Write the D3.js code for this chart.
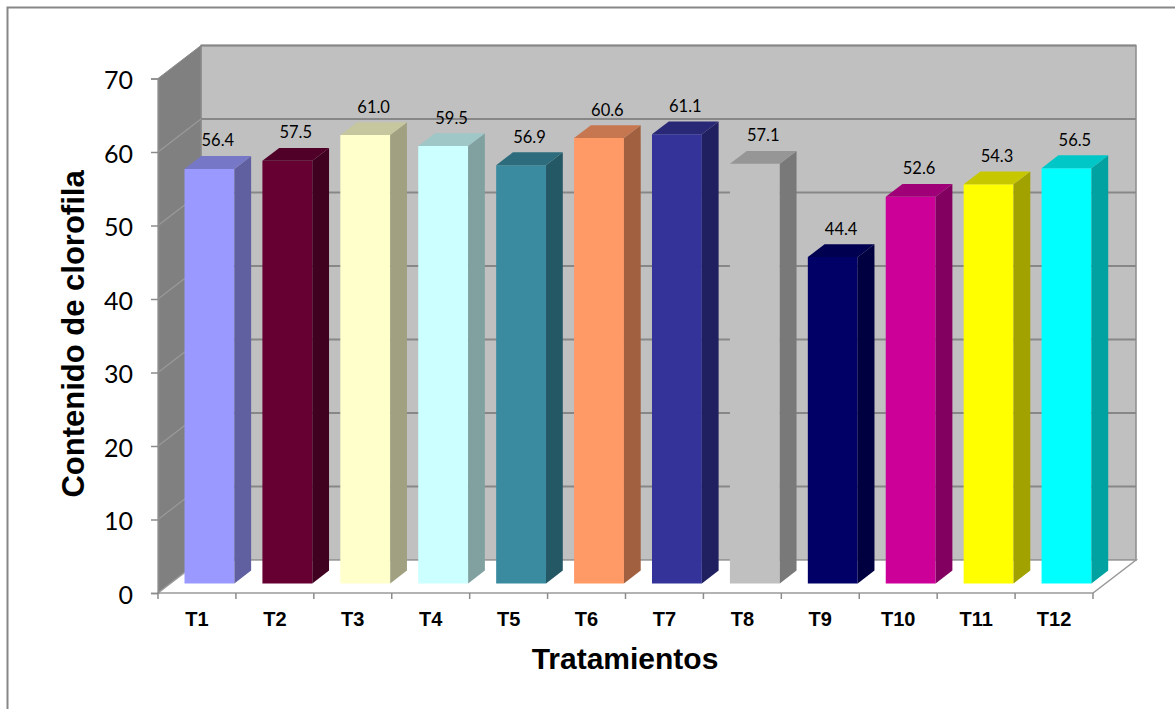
<!DOCTYPE html>
<html>
<head>
<meta charset="utf-8">
<script src="https://cdn.jsdelivr.net/npm/d3@7"></script>
<style>
  html, body { margin: 0; padding: 0; background: #ffffff; }
  svg { display: block; }
</style>
</head>
<body>
<svg id="chart" width="1175" height="709"></svg>
<script>
// Chlorophyll content per treatment
const categories = ["T1", "T2", "T3", "T4", "T5", "T6", "T7", "T8", "T9", "T10", "T11", "T12"];
const values = [56.4, 57.5, 61.0, 59.5, 56.9, 60.6, 61.1, 57.1, 44.4, 52.6, 54.3, 56.5];
const barColors = ["#9999ff", "#660033", "#ffffcc", "#ccffff", "#3a8ba0", "#ff9966",
                   "#333399", "#c0c0c0", "#000066", "#cc0099", "#ffff00", "#00ffff"];
const yTicks = [0, 10, 20, 30, 40, 50, 60, 70];
const yTitle = "Contenido de clorofila";
const xTitle = "Tratamientos";

const svg = d3.select("#chart");

// Front plane of the 3D box
const x0 = 158, x1 = 1093, yBase = 593, yTop = 78.5;
// Depth vector of the box (front -> back)
const DX = 43, DY = -33;
const proj = (x, y, z) => [x + DX * z, y + DY * z];

const x = d3.scaleBand().domain(categories).range([x0, x1]).paddingInner(0.36).paddingOuter(0.18);
const y = d3.scaleLinear().domain([0, 70]).range([yBase, yTop]);

const poly = pts => "M" + pts.map(p => p.join(",")).join("L") + "Z";

// Outer frame
svg.append("rect").attr("x", 7.5).attr("y", 7.5).attr("width", 1300).attr("height", 900)
  .attr("fill", "none").attr("stroke", "#878787").attr("stroke-width", 2);

// Back wall
svg.append("path")
  .attr("d", poly([proj(x0, y(70), 1), proj(x1, y(70), 1), proj(x1, y(0), 1), proj(x0, y(0), 1)]))
  .attr("fill", "#c0c0c0").attr("stroke", "#8c8c8c").attr("stroke-width", 1.5);

// Side wall (left)
svg.append("path")
  .attr("d", poly([[x0, y(0)], [x0, y(70)], proj(x0, y(70), 1), proj(x0, y(0), 1)]))
  .attr("fill", "#808080").attr("stroke", "#8c8c8c").attr("stroke-width", 1);

// Floor
svg.append("path")
  .attr("d", poly([[x0, y(0)], [x1, y(0)], proj(x1, y(0), 1), proj(x0, y(0), 1)]))
  .attr("fill", "#ffffff").attr("stroke", "#9a9a9a").attr("stroke-width", 1.5);

// Gridlines on back wall and side wall
const grid = svg.append("g");
yTicks.forEach(t => {
  if (t === 0) return;
  const a = proj(x0, y(t), 1), b = proj(x1, y(t), 1);
  grid.append("line").attr("x1", a[0]).attr("y1", a[1]).attr("x2", b[0]).attr("y2", b[1])
    .attr("stroke", "#878787").attr("stroke-width", 2);
  if (t < 70) {
    grid.append("line").attr("x1", x0).attr("y1", y(t)).attr("x2", a[0]).attr("y2", a[1])
      .attr("stroke", "#9a9a9a").attr("stroke-width", 1.2);
  }
});

// Value axis line with ticks
const yAxis = d3.axisLeft(y).tickValues(yTicks).tickSize(7).tickPadding(18).tickFormat(d3.format("d"));
const gy = svg.append("g").attr("transform", `translate(${x0},0)`).call(yAxis);
gy.select(".domain").attr("stroke", "#8c8c8c").attr("stroke-width", 1.5);
gy.selectAll(".tick line").attr("stroke", "#8c8c8c").attr("stroke-width", 1.5);
gy.selectAll(".tick text").attr("font-family", "Lato, 'Open Sans', sans-serif")
  .attr("font-size", 25).attr("fill", "#000").attr("dy", "0.4em");

// Category axis along the front edge of the floor
const xAxis = d3.axisBottom(x).tickSize(0).tickPadding(19);
const gx = svg.append("g").attr("transform", `translate(0,${yBase})`).call(xAxis);
gx.select(".domain").remove();
gx.selectAll(".tick text").attr("font-family", "'Liberation Sans', Arial, sans-serif")
  .attr("font-weight", "bold").attr("font-size", 20).attr("fill", "#000");
// category separators
d3.range(categories.length + 1).forEach(i => {
  const xi = x0 + i * (x1 - x0) / categories.length;
  svg.append("line").attr("x1", xi).attr("x2", xi).attr("y1", yBase).attr("y2", yBase + 6)
    .attr("stroke", "#8c8c8c").attr("stroke-width", 1.5);
});

// 3D bars
const zF = 0.29, zB = 0.68;
const bars = svg.append("g");
categories.forEach((c, i) => {
  const v = values[i];
  const col = d3.rgb(barColors[i]);
  const dark = d3.rgb(col.r * 0.63, col.g * 0.63, col.b * 0.63);
  const mid = d3.rgb(col.r * 0.78, col.g * 0.78, col.b * 0.78);
  const xl = x(c), xr = x(c) + x.bandwidth();
  const g = bars.append("g");
  // front face
  g.append("path").attr("d", poly([proj(xl, y(0), zF), proj(xr, y(0), zF), proj(xr, y(v), zF), proj(xl, y(v), zF)]))
    .attr("fill", col.formatHex());
  // right side face
  g.append("path").attr("d", poly([proj(xr, y(0), zF), proj(xr, y(0), zB), proj(xr, y(v), zB), proj(xr, y(v), zF)]))
    .attr("fill", dark.formatHex());
  // top face
  g.append("path").attr("d", poly([proj(xl, y(v), zF), proj(xr, y(v), zF), proj(xr, y(v), zB), proj(xl, y(v), zB)]))
    .attr("fill", mid.formatHex());
  // value label
  const lp = proj((xl + xr) / 2, y(v), (zF + zB) / 2);
  g.append("text").attr("x", lp[0]).attr("y", lp[1] - 16)
    .attr("text-anchor", "middle")
    .attr("font-family", "Lato, 'Open Sans', sans-serif").attr("font-size", 16.5).attr("fill", "#000")
    .text(d3.format(".1f")(v));
});

// Axis titles
svg.append("text").attr("transform", `translate(84,334) rotate(-90)`)
  .attr("text-anchor", "middle")
  .attr("font-family", "'Liberation Sans', Arial, sans-serif").attr("font-weight", "bold")
  .attr("font-size", 31).attr("fill", "#000").text(yTitle);

svg.append("text").attr("x", 625).attr("y", 669)
  .attr("text-anchor", "middle")
  .attr("font-family", "'Liberation Sans', Arial, sans-serif").attr("font-weight", "bold")
  .attr("font-size", 30).attr("fill", "#000").text(xTitle);
</script>
</body>
</html>
